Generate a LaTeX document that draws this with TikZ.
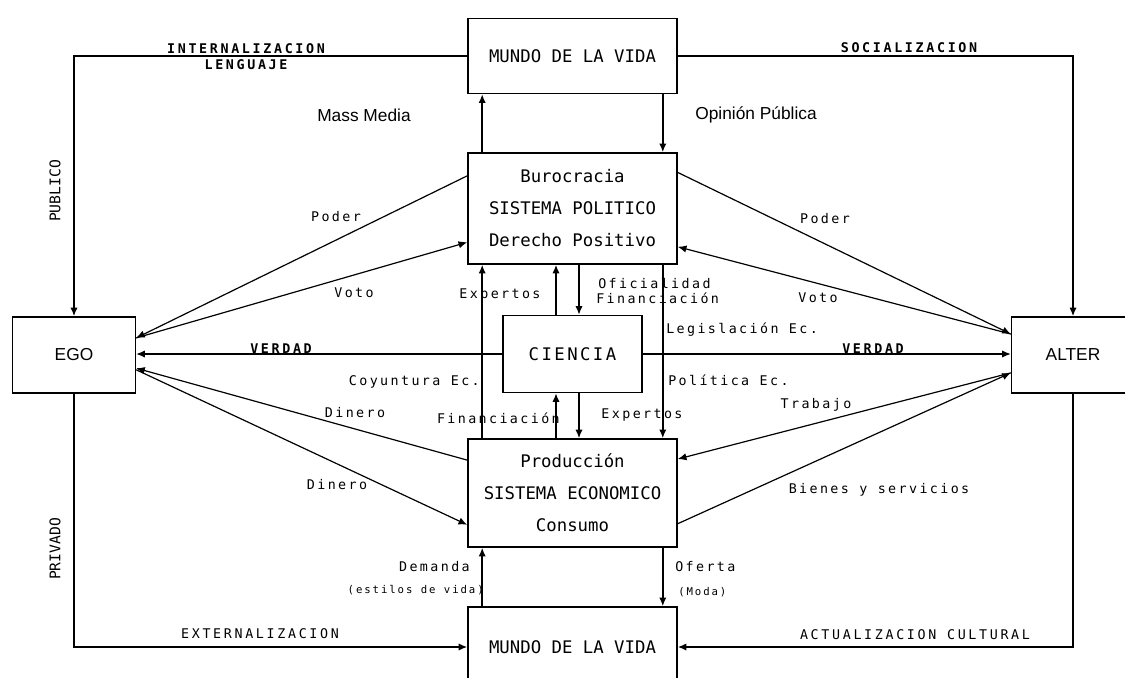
\documentclass[tikz,border=0pt]{standalone}
\usepackage{fontspec}
\usetikzlibrary{arrows.meta,calc}
\newfontfamily\boxfont{DejaVu Sans Mono}
\newfontfamily\cienfont[LetterSpace=14]{DejaVu Sans Mono}
\newfontfamily\lblfont[LetterSpace=18]{DejaVu Sans Mono}
\newfontfamily\capfont[LetterSpace=20]{DejaVu Sans Mono}
\newfontfamily\arialfont{Liberation Sans}
\begin{document}
\begin{tikzpicture}[x=0.75pt,y=-0.75pt,
  box/.style={draw, line width=1.2pt, inner sep=0pt, align=center,
    font=\boxfont\fontsize{13}{24}\selectfont},
  sidebox/.style={draw, line width=1.2pt, inner sep=0pt,
    font=\arialfont\fontsize{13}{15}\selectfont, minimum width=92pt, minimum height=57pt},
  arr/.style={line width=1.1pt, -{Latex[length=6.5pt,width=5.5pt]}},
  diag/.style={line width=0.9pt, -{Latex[length=6.5pt,width=5.5pt]}},
  lbl/.style={inner sep=0pt, font=\lblfont\fontsize{10}{12}\selectfont},
  tiny/.style={inner sep=0pt, font=\lblfont\fontsize{8}{10}\selectfont},
  caplbl/.style={inner sep=0pt, font=\capfont\bfseries\fontsize{10}{12}\selectfont},
  caplblr/.style={inner sep=0pt, font=\capfont\fontsize{10}{12}\selectfont},
  side/.style={inner sep=0pt, rotate=90, font=\boxfont\fontsize{11}{13}\selectfont},
  media/.style={inner sep=0pt, font=\arialfont\fontsize{13}{15}\selectfont}]
\useasboundingbox (0,0) rectangle (1125,678);

% boxes
\node[box, minimum width=156.75pt, minimum height=56.25pt] (top) at (572.5,56) {MUNDO DE LA VIDA};
\node[box, minimum width=156.75pt, minimum height=83.25pt] (bur) at (572.5,208.5)
  {Burocracia\\SISTEMA POLITICO\\Derecho Positivo};
\node[box, minimum width=104.25pt, minimum height=57.75pt, font=\cienfont\fontsize{13}{15}\selectfont] (cie) at (572.5,354) {CIENCIA};
\node[box, minimum width=156.75pt, minimum height=81pt] (prod) at (572.5,493)
  {Producci\'on\\SISTEMA ECONOMICO\\Consumo};
\node[box, minimum width=156.75pt, minimum height=60pt] (bot) at (572.5,647) {MUNDO DE LA VIDA};
\node[sidebox] (ego) at (74,355) {EGO};
\node[sidebox] (alter) at (1073,355) {ALTER};

% outer loop
\draw[arr] (top.west) -| (ego.north);
\draw[arr] (top.east) -| (alter.north);
\draw[arr] (ego.south) |- (bot.west);
\draw[arr] (alter.south) |- (bot.east);

\node[caplbl] (l1) at (246,49) {INTERNALIZACION};
\node[caplbl] (l2) at (246,65) {LENGUAJE};
\node[caplbl] (l3) at (909,48) {SOCIALIZACION};
\node[side] (l4) at (55,191) {PUBLICO};
\node[side] (l5) at (55,549) {PRIVADO};
\node[caplblr] (l6) at (260,634) {EXTERNALIZACION};
\node[caplblr] (l7) at (915,635) {ACTUALIZACION CULTURAL};

% top box <-> burocracia
\draw[arr] ($(bur.north west)+(15,0)$) -- ($(top.south west)+(15,0)$);
\draw[arr] ($(top.south east)+(-15,0)$) -- ($(bur.north east)+(-15,0)$);
\node[media] (mm) at (364,115) {Mass Media};
\node[media] (op) at (756,115) {Opini\'on P\'ublica};

% burocracia <-> ego / alter
\draw[diag] ($(bur.north west)!0.21!(bur.south west)$) -- ($(ego.north east)!0.28!(ego.south east)$);
\draw[diag] ($(ego.north east)!0.28!(ego.south east)$) -- ($(bur.north west)!0.80!(bur.south west)$);
\draw[diag] ($(bur.north east)!0.18!(bur.south east)$) -- ($(alter.north west)!0.23!(alter.south west)$);
\draw[diag] ($(alter.north west)!0.23!(alter.south west)$) -- ($(bur.north east)!0.84!(bur.south east)$);
\node[lbl] (p1) at (336,217) {Poder};
\node[lbl] (v1) at (354,293) {Voto};
\node[lbl] (p2) at (825,219) {Poder};
\node[lbl] (v2) at (818,298) {Voto};

% vertical links
\draw[arr] ($(prod.north west)+(15,0)$) -- ($(bur.south west)+(15,0)$);
\draw[arr] ($(bur.south east)+(-15,0)$) -- ($(prod.north east)+(-15,0)$);
\draw[arr] ($(cie.north)+(-16.5,0)$) -- ($(bur.south)+(-16.5,0)$);
\draw[arr] ($(bur.south)+(6.5,0)$) -- ($(cie.north)+(6.5,0)$);
\draw[arr] ($(prod.north)+(-16.5,0)$) -- ($(cie.south)+(-16.5,0)$);
\draw[arr] ($(cie.south)+(6.5,0)$) -- ($(prod.north)+(6.5,0)$);
\draw[arr] ($(bot.north west)+(15,0)$) -- ($(prod.south west)+(15,0)$);
\draw[arr] ($(prod.south east)+(-15,0)$) -- ($(bot.north east)+(-15,0)$);

\node[lbl] (e1) at (500,295) {Expertos};
\node[lbl, anchor=west] (o1) at (598,283) {Oficialidad};
\node[lbl, anchor=west] (f1) at (596,298) {Financiaci\'on};
\node[lbl, anchor=west] (le) at (666,330) {Legislaci\'on Ec.};
\node[lbl, anchor=east] (co) at (480,382) {Coyuntura Ec.};
\node[lbl, anchor=west] (po) at (668,380) {Pol\'itica Ec.};
\node[lbl, anchor=east] (f2) at (560,418) {Financiaci\'on};
\node[lbl] (e2) at (642,415) {Expertos};
\node[lbl, anchor=east] (de) at (470,567) {Demanda};
\node[tiny, anchor=east] (es) at (484,590) {(estilos de vida)};
\node[lbl, anchor=west] (of) at (675,567) {Oferta};
\node[tiny, anchor=west] (mo) at (678,592) {(Moda)};

% verdad
\draw[arr] (cie.west) -- (cie.west -| ego.east);
\draw[arr] (cie.east) -- (cie.east -| alter.west);
\node[caplbl] (vd1) at (281,349) {VERDAD};
\node[caplbl] (vd2) at (873,349) {VERDAD};

% produccion <-> ego / alter
\draw[diag] ($(prod.north west)!0.20!(prod.south west)$) -- ($(ego.north east)!0.67!(ego.south east)$);
\draw[diag] ($(ego.north east)!0.69!(ego.south east)$) -- ($(prod.north west)!0.79!(prod.south west)$);
\draw[diag] ($(alter.north west)!0.73!(alter.south west)$) -- ($(prod.north east)!0.19!(prod.south east)$);
\draw[diag] ($(prod.north east)!0.78!(prod.south east)$) -- ($(alter.north west)!0.73!(alter.south west)$);
\node[lbl] (d1) at (355,413) {Dinero};
\node[lbl] (d2) at (337,485) {Dinero};
\node[lbl] (tr) at (816,405) {Trabajo};
\node[lbl] (bs) at (879,490) {Bienes y servicios};
\end{tikzpicture}
\end{document}
